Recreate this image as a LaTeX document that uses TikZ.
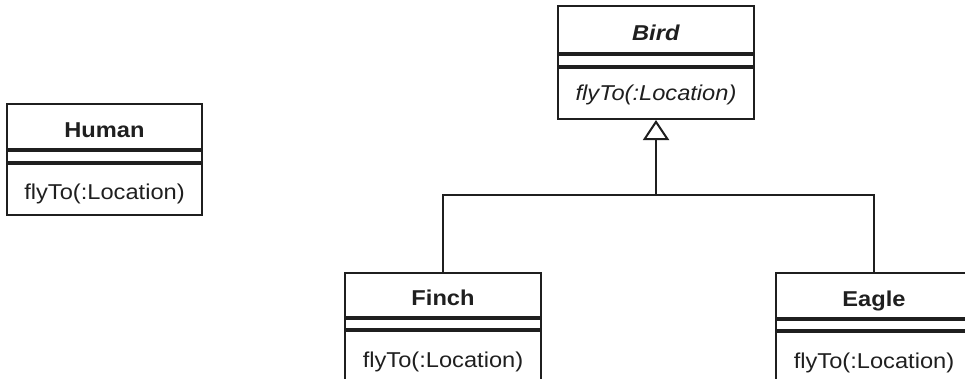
\documentclass[tikz,border=0pt]{standalone}
\usepackage{fontspec}
\setmainfont[FakeStretch=1.1]{Liberation Sans}
\usetikzlibrary{arrows.meta}
\begin{document}
\begin{tikzpicture}[x=1pt,y=-1pt,
  comp/.style={draw=black!88,line width=2pt,inner sep=0pt,minimum width=196pt,anchor=north,text depth=0pt,text=black!88,font=\fontsize{21.5}{26}\selectfont},
  conn/.style={draw=black!88,line width=2pt},
]
\useasboundingbox (0,0) rectangle (965,378);
\clip (0,0) rectangle (965,378);
% Human
\node[comp,minimum width=195pt,minimum height=45pt,text height=21pt] (humanN) at (104.5,103) {\textbf{Human}};
\node[comp,minimum width=195pt,minimum height=11pt] (humanG) at (humanN.south) {};
\node[comp,minimum width=195pt,minimum height=51pt,text height=19pt] (humanM) at (humanG.south) {flyTo(:Location)};
% Bird
\node[comp,minimum height=47pt,text height=21.6pt] (birdN) at (656,5) {\textbf{\textit{Bird}}};
\node[comp,minimum height=10.5pt] (birdG) at (birdN.south) {};
\node[comp,minimum height=51.5pt,text height=15pt] (birdM) at (birdG.south) {\textit{flyTo(:Location)}};
% Finch
\node[comp,minimum height=44pt,text height=20.6pt] (finchN) at (443,272) {\textbf{Finch}};
\node[comp,minimum height=10pt] (finchG) at (finchN.south) {};
\node[comp,minimum height=56pt,text height=17.4pt] (finchM) at (finchG.south) {flyTo(:Location)};
% Eagle
\node[comp,minimum height=44.5pt,text height=21.6pt] (eagleN) at (874,272) {\textbf{Eagle}};
\node[comp,minimum height=10pt] (eagleG) at (eagleN.south) {};
\node[comp,minimum height=56pt,text height=17.4pt] (eagleM) at (eagleG.south) {flyTo(:Location)};
% connectors
\coordinate (j) at (birdM.south |- 0,195);
\draw[conn] (finchN.north) |- (j);
\draw[conn] (eagleN.north) |- (j);
\draw[conn,-{Triangle[open,length=20pt,width=26pt,line width=2pt]}] (j) -- (birdM.south);
\end{tikzpicture}
\end{document}
